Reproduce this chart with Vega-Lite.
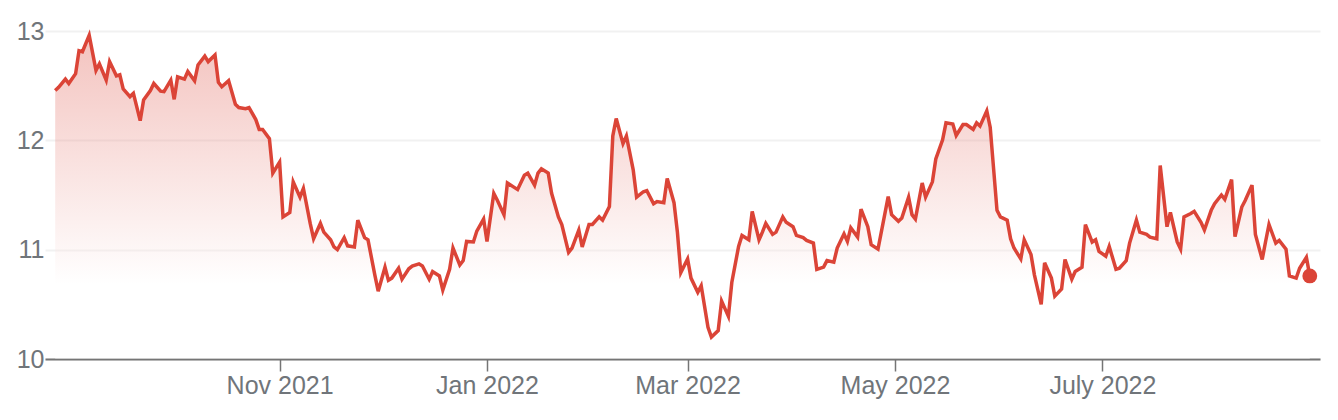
{
  "$schema": "https://vega.github.io/schema/vega-lite/v6.json",
  "width": 1275,
  "height": 328,
  "autosize": {"type": "none"},
  "padding": {"left": 45, "top": 31, "right": 18, "bottom": 61},
  "background": "white",
  "config": {
    "view": {"stroke": null},
    "font": "Liberation Sans",
    "axis": {"labelFont": "Liberation Sans", "labelColor": "#70757a", "labelFontSize": 25}
  },
  "data": {"values": [
    {"date":"2021-08-27","price":12.455},{"date":"2021-08-28","price":12.485},{"date":"2021-08-30","price":12.56},{"date":"2021-08-31","price":12.52},
    {"date":"2021-09-02","price":12.61},{"date":"2021-09-03","price":12.82},{"date":"2021-09-04","price":12.81},{"date":"2021-09-06","price":12.96},
    {"date":"2021-09-08","price":12.64},{"date":"2021-09-09","price":12.70},{"date":"2021-09-11","price":12.55},{"date":"2021-09-12","price":12.72},
    {"date":"2021-09-14","price":12.59},{"date":"2021-09-15","price":12.60},{"date":"2021-09-16","price":12.47},{"date":"2021-09-18","price":12.40},
    {"date":"2021-09-19","price":12.43},{"date":"2021-09-21","price":12.18},{"date":"2021-09-22","price":12.37},{"date":"2021-09-24","price":12.455},
    {"date":"2021-09-25","price":12.52},{"date":"2021-09-27","price":12.45},{"date":"2021-09-28","price":12.445},{"date":"2021-09-30","price":12.55},
    {"date":"2021-10-01","price":12.375},{"date":"2021-10-02","price":12.58},{"date":"2021-10-04","price":12.56},{"date":"2021-10-05","price":12.63},
    {"date":"2021-10-07","price":12.545},{"date":"2021-10-08","price":12.69},{"date":"2021-10-10","price":12.77},{"date":"2021-10-11","price":12.72},
    {"date":"2021-10-13","price":12.78},{"date":"2021-10-14","price":12.53},{"date":"2021-10-15","price":12.49},{"date":"2021-10-17","price":12.545},
    {"date":"2021-10-19","price":12.33},{"date":"2021-10-20","price":12.30},{"date":"2021-10-22","price":12.29},{"date":"2021-10-23","price":12.30},
    {"date":"2021-10-25","price":12.19},{"date":"2021-10-26","price":12.10},{"date":"2021-10-27","price":12.10},{"date":"2021-10-29","price":12.015},
    {"date":"2021-10-30","price":11.70},{"date":"2021-11-01","price":11.80},{"date":"2021-11-02","price":11.30},{"date":"2021-11-04","price":11.34},
    {"date":"2021-11-05","price":11.62},{"date":"2021-11-07","price":11.48},{"date":"2021-11-08","price":11.56},{"date":"2021-11-10","price":11.24},
    {"date":"2021-11-11","price":11.10},{"date":"2021-11-13","price":11.24},{"date":"2021-11-14","price":11.16},{"date":"2021-11-16","price":11.09},
    {"date":"2021-11-17","price":11.025},{"date":"2021-11-18","price":11.00},{"date":"2021-11-20","price":11.11},{"date":"2021-11-21","price":11.035},
    {"date":"2021-11-23","price":11.025},{"date":"2021-11-24","price":11.27},{"date":"2021-11-26","price":11.11},{"date":"2021-11-27","price":11.09},
    {"date":"2021-11-29","price":10.77},{"date":"2021-11-30","price":10.62},{"date":"2021-12-02","price":10.84},{"date":"2021-12-03","price":10.72},
    {"date":"2021-12-04","price":10.74},{"date":"2021-12-06","price":10.83},{"date":"2021-12-07","price":10.73},{"date":"2021-12-09","price":10.825},
    {"date":"2021-12-10","price":10.85},{"date":"2021-12-12","price":10.87},{"date":"2021-12-13","price":10.85},{"date":"2021-12-15","price":10.73},
    {"date":"2021-12-16","price":10.80},{"date":"2021-12-18","price":10.76},{"date":"2021-12-19","price":10.63},{"date":"2021-12-21","price":10.82},
    {"date":"2021-12-22","price":11.015},{"date":"2021-12-24","price":10.86},{"date":"2021-12-25","price":10.90},{"date":"2021-12-26","price":11.075},
    {"date":"2021-12-28","price":11.07},{"date":"2021-12-29","price":11.17},{"date":"2021-12-31","price":11.28},{"date":"2022-01-01","price":11.075},
    {"date":"2022-01-03","price":11.515},{"date":"2022-01-04","price":11.455},{"date":"2022-01-06","price":11.32},{"date":"2022-01-07","price":11.61},
    {"date":"2022-01-09","price":11.57},{"date":"2022-01-10","price":11.55},{"date":"2022-01-12","price":11.68},{"date":"2022-01-13","price":11.70},
    {"date":"2022-01-15","price":11.59},{"date":"2022-01-16","price":11.70},{"date":"2022-01-17","price":11.74},{"date":"2022-01-19","price":11.70},
    {"date":"2022-01-20","price":11.515},{"date":"2022-01-22","price":11.30},{"date":"2022-01-23","price":11.23},{"date":"2022-01-25","price":10.975},
    {"date":"2022-01-26","price":11.015},{"date":"2022-01-28","price":11.18},{"date":"2022-01-29","price":11.025},{"date":"2022-01-31","price":11.23},
    {"date":"2022-02-01","price":11.23},{"date":"2022-02-03","price":11.30},{"date":"2022-02-04","price":11.27},{"date":"2022-02-06","price":11.395},
    {"date":"2022-02-07","price":12.04},{"date":"2022-02-08","price":12.20},{"date":"2022-02-10","price":11.97},{"date":"2022-02-11","price":12.04},
    {"date":"2022-02-13","price":11.73},{"date":"2022-02-14","price":11.48},{"date":"2022-02-16","price":11.53},{"date":"2022-02-17","price":11.54},
    {"date":"2022-02-19","price":11.42},{"date":"2022-02-20","price":11.44},{"date":"2022-02-22","price":11.43},{"date":"2022-02-23","price":11.65},
    {"date":"2022-02-25","price":11.43},{"date":"2022-02-26","price":11.16},{"date":"2022-02-27","price":10.79},{"date":"2022-03-01","price":10.915},
    {"date":"2022-03-02","price":10.74},{"date":"2022-03-04","price":10.61},{"date":"2022-03-05","price":10.67},{"date":"2022-03-07","price":10.29},
    {"date":"2022-03-08","price":10.20},{"date":"2022-03-10","price":10.26},{"date":"2022-03-11","price":10.53},{"date":"2022-03-13","price":10.39},
    {"date":"2022-03-14","price":10.70},{"date":"2022-03-16","price":11.03},{"date":"2022-03-17","price":11.13},{"date":"2022-03-19","price":11.09},
    {"date":"2022-03-20","price":11.35},{"date":"2022-03-22","price":11.09},{"date":"2022-03-23","price":11.16},{"date":"2022-03-24","price":11.24},
    {"date":"2022-03-26","price":11.14},{"date":"2022-03-27","price":11.16},{"date":"2022-03-29","price":11.30},{"date":"2022-03-30","price":11.25},
    {"date":"2022-04-01","price":11.21},{"date":"2022-04-02","price":11.13},{"date":"2022-04-04","price":11.11},{"date":"2022-04-05","price":11.085},
    {"date":"2022-04-07","price":11.06},{"date":"2022-04-08","price":10.82},{"date":"2022-04-10","price":10.84},{"date":"2022-04-11","price":10.90},
    {"date":"2022-04-13","price":10.885},{"date":"2022-04-14","price":11.015},{"date":"2022-04-16","price":11.145},{"date":"2022-04-17","price":11.075},
    {"date":"2022-04-18","price":11.20},{"date":"2022-04-20","price":11.115},{"date":"2022-04-21","price":11.37},{"date":"2022-04-23","price":11.21},
    {"date":"2022-04-24","price":11.045},{"date":"2022-04-26","price":11.005},{"date":"2022-04-29","price":11.485},{"date":"2022-04-30","price":11.32},
    {"date":"2022-05-02","price":11.26},{"date":"2022-05-03","price":11.29},{"date":"2022-05-05","price":11.48},{"date":"2022-05-06","price":11.32},
    {"date":"2022-05-07","price":11.28},{"date":"2022-05-09","price":11.61},{"date":"2022-05-10","price":11.48},{"date":"2022-05-12","price":11.62},
    {"date":"2022-05-13","price":11.83},{"date":"2022-05-15","price":12.005},{"date":"2022-05-16","price":12.16},{"date":"2022-05-18","price":12.15},
    {"date":"2022-05-19","price":12.045},{"date":"2022-05-21","price":12.145},{"date":"2022-05-22","price":12.145},{"date":"2022-05-24","price":12.10},
    {"date":"2022-05-25","price":12.16},{"date":"2022-05-26","price":12.13},{"date":"2022-05-28","price":12.27},{"date":"2022-05-29","price":12.12},
    {"date":"2022-05-31","price":11.36},{"date":"2022-06-01","price":11.30},{"date":"2022-06-03","price":11.27},{"date":"2022-06-04","price":11.10},
    {"date":"2022-06-05","price":11.015},{"date":"2022-06-07","price":10.915},{"date":"2022-06-08","price":11.09},{"date":"2022-06-10","price":10.955},
    {"date":"2022-06-11","price":10.77},{"date":"2022-06-13","price":10.50},{"date":"2022-06-14","price":10.88},{"date":"2022-06-16","price":10.74},
    {"date":"2022-06-17","price":10.575},{"date":"2022-06-19","price":10.64},{"date":"2022-06-20","price":10.91},{"date":"2022-06-22","price":10.73},
    {"date":"2022-06-23","price":10.80},{"date":"2022-06-25","price":10.84},{"date":"2022-06-26","price":11.23},{"date":"2022-06-28","price":11.07},
    {"date":"2022-06-29","price":11.09},{"date":"2022-06-30","price":10.985},{"date":"2022-07-02","price":10.94},{"date":"2022-07-03","price":11.03},
    {"date":"2022-07-05","price":10.82},{"date":"2022-07-06","price":10.83},{"date":"2022-07-08","price":10.90},{"date":"2022-07-09","price":11.06},
    {"date":"2022-07-11","price":11.27},{"date":"2022-07-12","price":11.16},{"date":"2022-07-14","price":11.14},{"date":"2022-07-15","price":11.115},
    {"date":"2022-07-17","price":11.10},{"date":"2022-07-18","price":11.77},{"date":"2022-07-20","price":11.21},{"date":"2022-07-21","price":11.34},
    {"date":"2022-07-23","price":11.07},{"date":"2022-07-24","price":11.005},{"date":"2022-07-25","price":11.30},{"date":"2022-07-27","price":11.33},
    {"date":"2022-07-28","price":11.35},{"date":"2022-07-30","price":11.25},{"date":"2022-07-31","price":11.18},{"date":"2022-08-02","price":11.36},
    {"date":"2022-08-03","price":11.42},{"date":"2022-08-05","price":11.50},{"date":"2022-08-06","price":11.46},{"date":"2022-08-08","price":11.64},
    {"date":"2022-08-09","price":11.12},{"date":"2022-08-11","price":11.39},{"date":"2022-08-12","price":11.45},{"date":"2022-08-14","price":11.59},
    {"date":"2022-08-15","price":11.14},{"date":"2022-08-17","price":10.91},{"date":"2022-08-18","price":11.075},{"date":"2022-08-19","price":11.23},
    {"date":"2022-08-21","price":11.06},{"date":"2022-08-22","price":11.085},{"date":"2022-08-24","price":11.005},{"date":"2022-08-25","price":10.76},
    {"date":"2022-08-27","price":10.74},{"date":"2022-08-28","price":10.83},{"date":"2022-08-30","price":10.93},{"date":"2022-08-31","price":10.76}
  ]},
  "encoding": {
    "x": {
      "field": "date", "type": "temporal",
      "scale": {"type": "utc", "domain": [{"year": 2021, "month": 8, "date": 24, "utc": true}, {"year": 2022, "month": 9, "date": 3, "utc": true}]},
      "axis": {
        "title": null, "grid": false,
        "values": [
          {"year": 2021, "month": 11, "date": 1, "utc": true},
          {"year": 2022, "month": 1, "date": 1, "utc": true},
          {"year": 2022, "month": 3, "date": 1, "utc": true},
          {"year": 2022, "month": 5, "date": 1, "utc": true},
          {"year": 2022, "month": 7, "date": 1, "utc": true}
        ],
        "labelExpr": "utcFormat(datum.value, '%b') == 'Jul' ? 'July ' + utcFormat(datum.value, '%Y') : utcFormat(datum.value, '%b %Y')",
        "domainColor": "#757575", "domainWidth": 2,
        "tickColor": "#757575", "tickWidth": 1.5, "tickSize": 12,
        "labelPadding": 2, "labelFlush": false, "labelOverlap": false
      }
    },
    "y": {
      "field": "price", "type": "quantitative",
      "scale": {"domain": [10, 13], "zero": false, "nice": false},
      "axis": {
        "title": null, "values": [10, 11, 12, 13],
        "domain": false, "ticks": false, "labelPadding": 1,
        "gridColor": "#f1f1f1", "gridWidth": 2
      }
    }
  },
  "layer": [
    {
      "mark": {
        "type": "area",
        "clip": true,
        "fillOpacity": 0.32,
        "color": {
          "gradient": "linear", "x1": 0, "y1": 0, "x2": 0, "y2": 1,
          "stops": [
            {"offset": 0, "color": "#db4437"},
            {"offset": 0.77, "color": "#ffffff"}
          ]
        }
      },
      "encoding": {"y2": {"datum": 10}}
    },
    {
      "mark": {"type": "line", "color": "#db4437", "strokeWidth": 3.5}
    },
    {
      "transform": [{"filter": "time(toDate(datum.date)) >= utc(2022, 7, 31)"}],
      "mark": {"type": "point", "filled": true, "color": "#db4437", "opacity": 1, "size": 220}
    }
  ]
}
